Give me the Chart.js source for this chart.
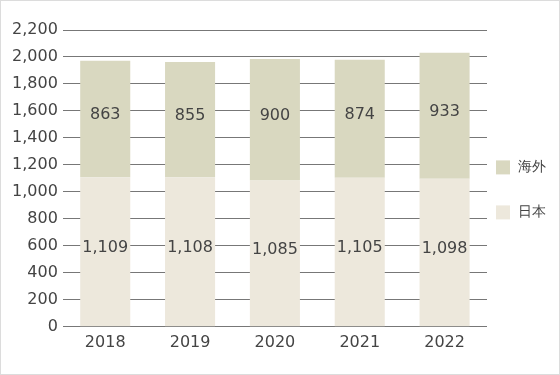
<!DOCTYPE html>
<html>
<head>
<meta charset="utf-8">
<script src="https://cdn.jsdelivr.net/npm/chart.js@4"></script>
<style>
  html, body { margin: 0; padding: 0; background: #fff; }
  #wrap { width: 558px; height: 373px; border: 1px solid #dcdcdc; position: relative; }
</style>
</head>
<body>
<div id="wrap"><canvas id="chart"></canvas></div>
<script>
// 年度
const years = ['2018', '2019', '2020', '2021', '2022'];
// 日本 / 海外
const japan = [1109, 1108, 1085, 1105, 1098];
const overseas = [863, 855, 900, 874, 933];
const seriesNames = ['日本', '海外'];
const seriesColors = ['#ede8dc', '#d9d8c0'];
const yMax = 2200;
const yStep = 200;

const fontFamily = '"DejaVu Sans", Verdana, sans-serif';

// ラベルを棒の中央に描く
const barLabels = {
    id: 'barLabels',
    afterDatasetsDraw(chart) {
        const ctx = chart.ctx;
        ctx.save();
        ctx.font = '16px ' + fontFamily;
        ctx.fillStyle = '#444';
        ctx.textAlign = 'center';
        ctx.textBaseline = 'middle';
        chart.data.datasets.forEach((ds, i) => {
            chart.getDatasetMeta(i).data.forEach((bar, j) => {
                const p = bar.getProps(['x', 'y', 'base'], true);
                ctx.fillText(ds.data[j].toLocaleString('en-US'), p.x, (p.y + p.base) / 2 - 4);
            });
        });
        ctx.restore();
    }
};

// 凡例（右側、上が海外）
const sideLegend = {
    id: 'sideLegend',
    afterDraw(chart) {
        const ctx = chart.ctx;
        const area = chart.chartArea;
        const x = area.right + 9;
        let y = (area.top + area.bottom) / 2 - 18;
        ctx.save();
        ctx.font = '14px ' + fontFamily;
        ctx.textBaseline = 'middle';
        chart.data.datasets.slice().reverse().forEach(ds => {
            ctx.fillStyle = ds.backgroundColor;
            ctx.fillRect(x, y, 14, 14);
            ctx.fillStyle = '#444';
            ctx.fillText(ds.label, x + 22, y + 7);
            y += 45;
        });
        ctx.restore();
    }
};

new Chart(document.getElementById('chart'), {
    type: 'bar',
    data: {
        labels: years,
        datasets: [
            { label: seriesNames[0], data: japan, backgroundColor: seriesColors[0] },
            { label: seriesNames[1], data: overseas, backgroundColor: seriesColors[1] }
        ]
    },
    options: {
        responsive: true,
        maintainAspectRatio: false,
        animation: false,
        layout: { padding: { top: 29, right: 72, bottom: 16, left: 6 } },
        datasets: { bar: { categoryPercentage: 1, barPercentage: 0.59 } },
        plugins: {
            legend: { display: false },
            tooltip: { enabled: false }
        },
        scales: {
            x: {
                stacked: true,
                grid: { display: false, drawTicks: false, tickLength: 0 },
                border: { display: false },
                ticks: { color: '#444', font: { family: fontFamily, size: 16 }, padding: 6 }
            },
            y: {
                stacked: true,
                min: 0,
                max: yMax,
                border: { display: false },
                grid: { color: '#777', drawTicks: false },
                ticks: {
                    stepSize: yStep,
                    padding: 5,
                    color: '#444',
                    font: { family: fontFamily, size: 16 },
                    callback: v => v.toLocaleString('en-US')
                }
            }
        }
    },
    plugins: [barLabels, sideLegend]
});
</script>
</body>
</html>
